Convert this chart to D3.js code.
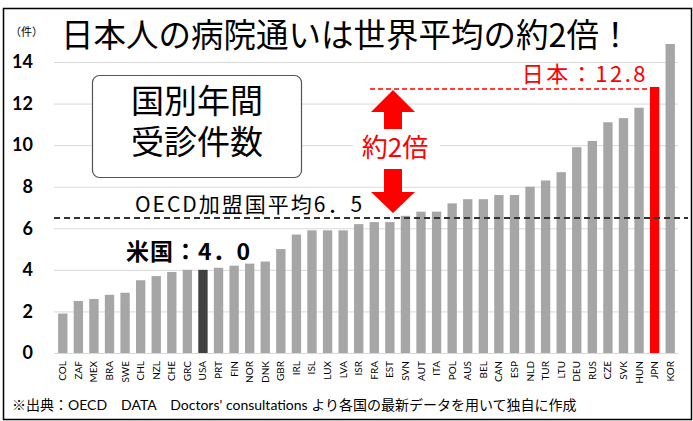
<!DOCTYPE html>
<html>
<head>
<meta charset="utf-8">
<script src="https://cdn.jsdelivr.net/npm/d3@7"></script>
<style>
  body { margin: 0; background: #fff; }
  svg { display: block; }
</style>
</head>
<body>
<div id="chart"></div>
<script>
let countries = ['COL','ZAF','MEX','BRA','SWE','CHL','NZL','CHE','GRC','USA','PRT','FIN','NOR','DNK','GBR','IRL','ISL','LUX','LVA','ISR',
                 'FRA','EST','SVN','AUT','ITA','POL','AUS','BEL','CAN','ESP','NLD','TUR','LTU','DEU','RUS','CZE','SVK','HUN','JPN','KOR']
let visits = [1.9,2.5,2.6,2.8,2.9,3.5,3.7,3.9,4.0,4.0,4.1,4.2,4.3,4.4,5.0,5.7,5.9,5.9,5.9,6.2,
              6.3,6.3,6.6,6.8,6.8,7.2,7.4,7.4,7.6,7.6,8.0,8.3,8.7,9.9,10.2,11.1,11.3,11.8,12.8,16.6]
let yTicks = [0, 2, 4, 6, 8, 10, 12, 14]
let oecdAvg = 6.5
let japanValue = 12.8
let usaValue = 4.0

let width = 693, height = 421
let plotLeft = 55, plotRight = 678, plotBottom = 353, plotTop = 62

let svg = d3.select('#chart').append('svg')
  .attr('width', width)
  .attr('height', height)

svg.append('rect')
  .attr('x', 3.5).attr('y', 8.5)
  .attr('width', 688).attr('height', 411)
  .attr('fill', '#fff').attr('stroke', '#000').attr('stroke-width', 1.5)

let x = d3.scaleBand().domain(countries).range([plotLeft, plotRight]).paddingInner(0.4).paddingOuter(0.2)
let y = d3.scaleLinear().domain([0, 14]).range([plotBottom, plotTop])

// gridlines + y labels
let yAxis = svg.append('g')
  .attr('transform', 'translate(' + (plotLeft - 1) + ',0)')
  .call(d3.axisLeft(y).tickValues(yTicks).tickSize(-(plotRight - plotLeft + 1)).tickPadding(21).tickFormat(d3.format('d')))
yAxis.select('.domain').remove()
yAxis.selectAll('line').attr('stroke', '#d9d9d9')
yAxis.selectAll('text')
  .attr('fill', '#000')
  .style('font-family', 'Lato, "Liberation Sans", sans-serif')
  .style('font-weight', 'bold')
  .style('font-size', '18px')

svg.append('defs').append('clipPath').attr('id', 'plot')
  .append('rect').attr('x', 0).attr('y', 44).attr('width', width).attr('height', plotBottom - 44)

let data = countries.map((c, i) => ({c: c, v: visits[i]}))

svg.append('g').attr('clip-path', 'url(#plot)')
  .selectAll('rect')
  .data(data)
  .enter()
  .append('rect')
  .attr('x', d => x(d.c))
  .attr('y', d => y(d.v))
  .attr('width', x.bandwidth())
  .attr('height', d => y(0) - y(d.v))
  .attr('fill', d => d.c === 'JPN' ? '#ff0000' : d.c === 'USA' ? '#404040' : '#a6a6a6')

// x labels
let xAxis = svg.append('g')
  .attr('transform', 'translate(0,' + plotBottom + ')')
  .call(d3.axisBottom(x).tickSize(0))
xAxis.select('.domain').remove()
xAxis.selectAll('text')
  .attr('transform', 'rotate(-90)')
  .attr('x', -8)
  .attr('y', 0)
  .attr('dy', '0.35em')
  .attr('fill', '#000')
  .style('text-anchor', 'end')
  .style('font-family', 'Lato, "Liberation Sans", sans-serif')
  .style('font-size', '10px')

// OECD average line
svg.append('line')
  .attr('x1', plotLeft - 1).attr('x2', 688)
  .attr('y1', y(oecdAvg)).attr('y2', y(oecdAvg))
  .attr('stroke', '#333').attr('stroke-width', 2).attr('stroke-dasharray', '6,4')

svg.append('text')
  .attr('x', 135).attr('y', y(oecdAvg) - 6)
  .style('font-family', '"Noto Sans CJK JP", sans-serif')
  .style('font-size', '21px')
  .style('letter-spacing', '2px')
  .text('OECD加盟国平均6．5')

// Japan line
svg.append('line')
  .attr('x1', 370).attr('x2', x('JPN'))
  .attr('y1', y(japanValue) + 2).attr('y2', y(japanValue) + 2)
  .attr('stroke', '#ff0000').attr('stroke-width', 1.5).attr('stroke-dasharray', '5,3')

svg.append('text')
  .attr('x', 648).attr('y', y(japanValue) - 5)
  .attr('fill', '#ff0000')
  .style('text-anchor', 'end')
  .style('font-family', '"Noto Sans CJK JP", sans-serif')
  .style('font-size', '22px')
  .style('letter-spacing', '2.5px')
  .text('日本：12.8')

svg.append('text')
  .attr('x', 126).attr('y', y(usaValue) - 10)
  .style('font-family', '"Noto Sans CJK JP", sans-serif')
  .style('font-weight', 'bold')
  .style('font-size', '23px')
  .style('letter-spacing', '1px')
  .text('米国：4．0')

// arrows
let ax = 393
let upTip = y(japanValue) + 3, downTip = y(oecdAvg) - 5
svg.append('polygon')
  .attr('points', [[ax, upTip], [ax + 22, upTip + 22], [ax + 9, upTip + 22], [ax + 9, upTip + 39],
                   [ax - 9, upTip + 39], [ax - 9, upTip + 22], [ax - 22, upTip + 22]].join(' '))
  .attr('fill', '#ff0000')
svg.append('polygon')
  .attr('points', [[ax, downTip], [ax + 22, downTip - 21], [ax + 9, downTip - 21], [ax + 9, downTip - 44],
                   [ax - 9, downTip - 44], [ax - 9, downTip - 21], [ax - 22, downTip - 21]].join(' '))
  .attr('fill', '#ff0000')

svg.append('rect')
  .attr('x', 353).attr('y', 133).attr('width', 87).attr('height', 28).attr('fill', '#fff')
svg.append('text')
  .attr('x', ax + 2).attr('y', 157)
  .attr('fill', '#ff0000')
  .style('text-anchor', 'middle')
  .style('font-family', '"Noto Sans CJK JP", sans-serif')
  .style('font-size', '26px')
  .text('約2倍')

// box
svg.append('rect')
  .attr('x', 92.5).attr('y', 75.5).attr('width', 209).attr('height', 102).attr('rx', 7)
  .attr('fill', '#fff').attr('stroke', '#555').attr('stroke-width', 1.2)
let boxLines = ['国別年間', '受診件数']
svg.selectAll('.boxline')
  .data(boxLines)
  .enter()
  .append('text')
  .attr('class', 'boxline')
  .attr('x', 197)
  .attr('y', (d, i) => 113 + i * 41)
  .style('text-anchor', 'middle')
  .style('font-family', '"Noto Sans CJK JP", sans-serif')
  .style('font-size', '33px')
  .text(d => d)

// title
svg.append('text')
  .attr('x', 61).attr('y', 47)
  .style('font-family', '"Noto Sans CJK JP", sans-serif')
  .style('font-size', '32.5px')
  .text('日本人の病院通いは世界平均の約2倍！')

svg.append('text')
  .attr('x', 10).attr('y', 36)
  .style('font-family', '"Noto Sans CJK JP", sans-serif')
  .style('font-size', '11px')
  .text('（件）')

svg.append('text')
  .attr('x', 12).attr('y', 410)
  .style('font-family', 'Lato, "Noto Sans CJK JP", sans-serif')
  .style('font-size', '14px')
  .text('※出典：OECD　DATA　Doctors\' consultations より各国の最新データを用いて独自に作成')
</script>
</body>
</html>
